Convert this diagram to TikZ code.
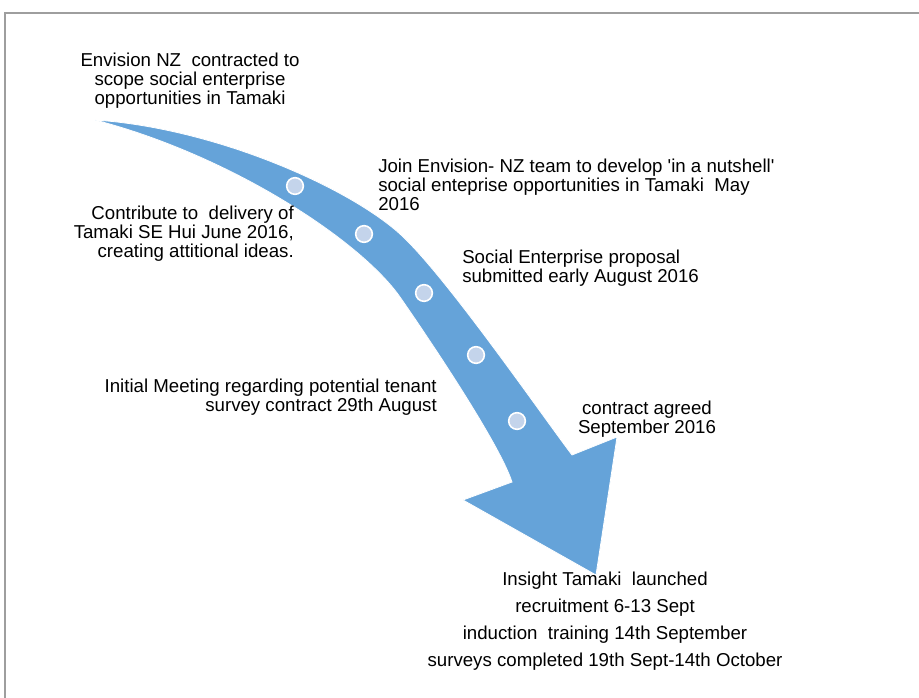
\documentclass[tikz,border=0pt]{standalone}
\usepackage{fontspec}
\setmainfont{Liberation Sans}
\usetikzlibrary{positioning}
\definecolor{arrowblue}{RGB}{101,163,217}
\definecolor{dotblue}{RGB}{196,212,235}
\definecolor{framegray}{RGB}{158,158,158}

\begin{document}
\begin{tikzpicture}[x=0.75pt,y=-0.75pt,
        note/.style={font=\fontsize{14}{14.25}\selectfont},
        widenote/.style={font=\fontsize{14}{20.25}\selectfont},
        milestone/.style={circle,fill=dotblue,draw=white,line width=1.2pt,minimum size=12.5pt}]
                \tikzstyle{every node}+=[inner sep=0pt]
                \useasboundingbox (0,0) rectangle (919,698);
                % frame
                \draw [framegray, line width=1.5pt] (5,698) -- (5,13.5) -- (919,13.5);
                % curved arrow
                \coordinate (tail) at (95,120);
                \coordinate (bend) at (400,234);
                \coordinate (notchr) at (572,455);
                \coordinate (barbr) at (617,437);
                \coordinate (tip) at (596,575);
                \coordinate (barbl) at (463,500);
                \coordinate (notchl) at (512,482);
                \coordinate (inner) at (400,297);
                \fill [arrowblue, draw=white, line width=0.6pt] (tail)
                    .. controls (215,128) and (348,187) .. (bend)
                    .. controls (444,274) and (536,407) .. (notchr)
                    -- (barbr) -- (tip) -- (barbl) -- (notchl)
                    .. controls (500,445) and (434,346) .. (inner)
                    .. controls (360,240) and (230,155) .. (tail) -- cycle;
                % milestones on the arrow
                \node [milestone] (m1) at (295,186) {};
                \node [milestone] (m2) at (364,234) {};
                \node [milestone] (m3) at (424,293) {};
                \node [milestone] (m4) at (476,355) {};
                \node [milestone] (m5) at (517,421) {};
                % texts
                \node [note, align=center] (envision) at (190,81) {Envision NZ\ \ contracted to\\scope social enterprise\\opportunities in Tamaki};
                \node [note, align=left, anchor=west] (nutshell) at (378,185) {Join Envision- NZ team to develop \textquotesingle in a nutshell\textquotesingle\\social enteprise opportunities in Tamaki\ \ May\\2016};
                \node [note, align=right, anchor=east] (hui) at (294,234) {Contribute to\ \ delivery of\\Tamaki SE Hui June 2016,\\creating attitional ideas.};
                \node [note, align=left, anchor=west] (proposal) at (462,268) {Social Enterprise proposal\\submitted early August 2016};
                \node [note, align=right, anchor=east] (meeting) at (437,397) {Initial Meeting regarding potential tenant\\survey contract 29th August};
                \node [note, align=center] (agreed) at (647,419) {contract agreed\\September 2016};
                \node [widenote, align=center] (launched) at (605,621) {Insight Tamaki\ \ launched\\recruitment 6-13 Sept\\induction\ \ training 14th September\\surveys completed 19th Sept-14th October};
            \end{tikzpicture}
\end{document}
